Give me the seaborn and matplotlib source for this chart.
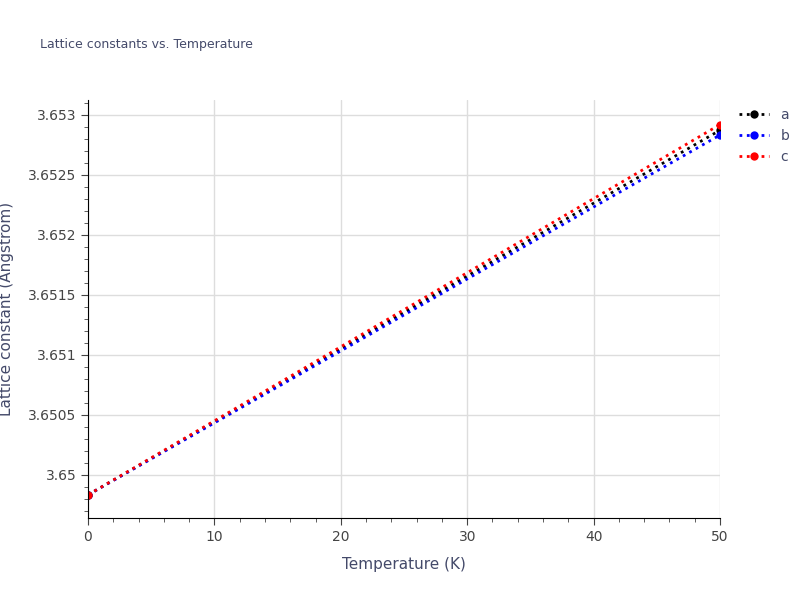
import matplotlib
matplotlib.use("Agg")
import matplotlib.pyplot as plt
import seaborn as sns
import pandas as pd
from matplotlib.ticker import MultipleLocator

temps = [0, 50]
a_vals = [3.649833, 3.652870]
b_vals = [3.649833, 3.652830]
c_vals = [3.649833, 3.652917]

df = pd.DataFrame({
    "T": temps * 3,
    "L": a_vals + b_vals + c_vals,
    "s": ["a"] * 2 + ["b"] * 2 + ["c"] * 2,
})

sns.set_style("white")
fig = plt.figure(figsize=(8, 6), dpi=100)
ax = fig.add_axes([0.11, 0.137, 0.79, 0.697])
sns.lineplot(data=df, x="T", y="L", hue="s", palette={"a": "black", "b": "blue", "c": "red"},
             marker="o", markersize=6, markeredgewidth=0, linestyle=":", linewidth=2, ax=ax)
for l in ax.lines:
    l.set_linestyle(":")

ax.set_xlim(0, 50)
ax.set_ylim(3.649642, 3.653125)
ax.yaxis.set_major_locator(MultipleLocator(0.0005))
ax.yaxis.set_minor_locator(MultipleLocator(0.0001))
ax.xaxis.set_minor_locator(MultipleLocator(2))
ax.yaxis.set_major_formatter(plt.FuncFormatter(lambda v, p: f"{v:.4f}".rstrip("0").rstrip(".")))
ax.grid(True, color="#dddddd", linewidth=1)
ax.tick_params(axis="both", which="both", direction="out", colors="#444444", labelsize=10,
               left=True, bottom=True)
ax.tick_params(which="major", length=5)
ax.tick_params(which="minor", length=3)
for s in ["top", "right"]:
    ax.spines[s].set_visible(False)
for s in ["left", "bottom"]:
    ax.spines[s].set_color("black")

ax.set_xlabel("Temperature (K)", color="#444a6a", fontsize=11, labelpad=10)
ax.set_ylabel("Lattice constant (Angstrom)", color="#444a6a", fontsize=11, labelpad=10)
fig.text(0.05, 0.92, "Lattice constants vs. Temperature", fontsize=9, color="#444a6a")

leg = ax.legend(loc="upper left", bbox_to_anchor=(1.01, 1.01), frameon=False, fontsize=10,
                handlelength=2.2, labelcolor="#444a6a")
for h in leg.legend_handles:
    h.set_linestyle(":")

fig.savefig("out.png", dpi=100)
